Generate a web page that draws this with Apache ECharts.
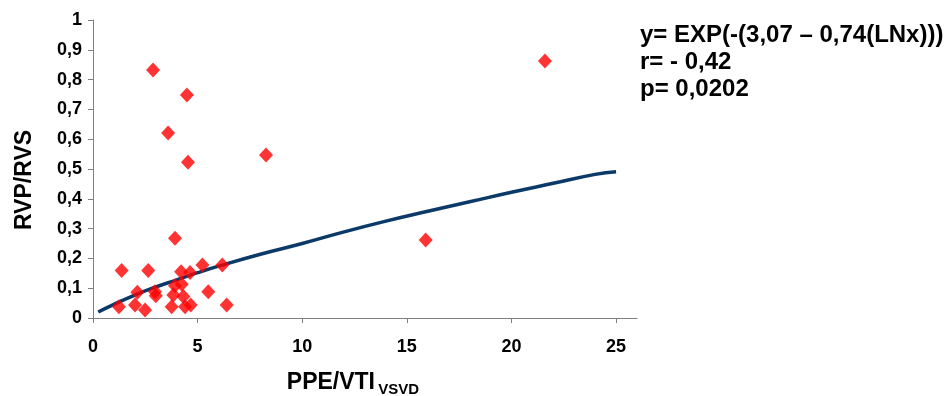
<!DOCTYPE html>
<html>
<head>
<meta charset="utf-8">
<script src="https://cdn.jsdelivr.net/npm/echarts@6/dist/echarts.min.js"></script>
<style>
html, body { margin: 0; padding: 0; background: #fff; }
#chart { width: 951px; height: 396px; }
</style>
</head>
<body>
<div id="chart"></div>
<script>
// scatter points (PPE/VTI vsvd, RVP/RVS)
var pointX = [2.87, 4.49, 3.59, 4.54, 8.27, 21.6, 15.9, 3.92,
              1.37, 2.64, 4.21, 4.64, 5.23, 6.18,
              2.12, 2.96, 3.0, 3.92, 4.24, 3.84, 4.32, 5.51,
              1.24, 2.01, 2.49, 3.76, 4.4, 4.67, 6.39];
var pointY = [0.832, 0.748, 0.621, 0.523, 0.547, 0.862, 0.262, 0.268,
              0.159, 0.159, 0.155, 0.153, 0.178, 0.178,
              0.086, 0.088, 0.075, 0.108, 0.113, 0.077, 0.072, 0.088,
              0.038, 0.044, 0.027, 0.038, 0.038, 0.044, 0.044];

// fitted curve
var curveX = [0.25, 1, 2, 3, 4, 5, 6, 8, 10, 12, 14, 16, 18, 20, 22, 24, 25];
var curveY = [0.02, 0.046, 0.077, 0.104, 0.128, 0.152, 0.174, 0.214, 0.25, 0.289, 0.325, 0.358, 0.39, 0.422, 0.452, 0.482, 0.491];

var xTicks = [0, 5, 10, 15, 20, 25];
var legendLines = ['y= EXP(-(3,07 \u2013 0,74(LNx)))', 'r= - 0,42', 'p= 0,0202'];

var scatterData = pointX.map(function (x, i) { return [x, pointY[i]]; });
var curveData = curveX.map(function (x, i) { return [x, curveY[i]]; });

var myChart = echarts.init(document.getElementById('chart'));
var font = '"Liberation Sans", Arial, sans-serif';

var option = {
    animation: false,
    backgroundColor: '#fff',
    grid: { left: 93, right: 314, top: 20, bottom: 78, outerBoundsMode: 'none' },
    xAxis: {
        type: 'value',
        min: 0,
        max: 26,
        interval: 5,
        splitLine: { show: false },
        axisLine: { lineStyle: { color: '#808080', width: 1 } },
        axisTick: { customValues: xTicks, length: 5, lineStyle: { color: '#808080' } },
        axisLabel: {
            customValues: xTicks,
            color: '#000', fontFamily: font, fontWeight: 'bold', fontSize: 18, margin: 20
        },
        name: '{a|PPE/VTI} {b|VSVD}',
        nameLocation: 'middle',
        nameGap: 50,
        nameTextStyle: {
            padding: [0, 24, 0, 0],
            rich: {
                a: { fontFamily: font, fontWeight: 'bold', fontSize: 23, color: '#000' },
                b: { fontFamily: font, fontWeight: 'bold', fontSize: 15, color: '#000', padding: [14, 0, 0, 0] }
            }
        }
    },
    yAxis: {
        type: 'value',
        min: 0,
        max: 1,
        interval: 0.1,
        splitLine: { show: false },
        axisLine: { show: true, lineStyle: { color: '#808080', width: 1 } },
        axisTick: { show: true, length: 5, lineStyle: { color: '#808080' } },
        axisLabel: {
            color: '#000', fontFamily: font, fontWeight: 'bold', fontSize: 18, margin: 11,
            formatter: function (v) { return String(Math.round(v * 10) / 10).replace('.', ','); }
        },
        name: 'RVP/RVS',
        nameLocation: 'middle',
        nameGap: 57,
        nameTextStyle: { color: '#000', fontFamily: font, fontWeight: 'bold', fontSize: 23, padding: [0, 22, 0, 0] }
    },
    series: [
        {
            type: 'line',
            data: curveData,
            smooth: true,
            showSymbol: false,
            lineStyle: { color: '#0b3a68', width: 3.5 },
            z: 2
        },
        {
            type: 'scatter',
            data: scatterData,
            symbol: 'diamond',
            symbolSize: [14, 15],
            itemStyle: { color: '#ff0000' },
            z: 3
        }
    ],
    graphic: [{
        type: 'text',
        left: 640,
        top: 22,
        style: {
            text: legendLines.join('\n'),
            fill: '#000',
            font: 'bold 24px ' + font,
            lineHeight: 27
        }
    }]
};

myChart.setOption(option);
</script>
</body>
</html>
